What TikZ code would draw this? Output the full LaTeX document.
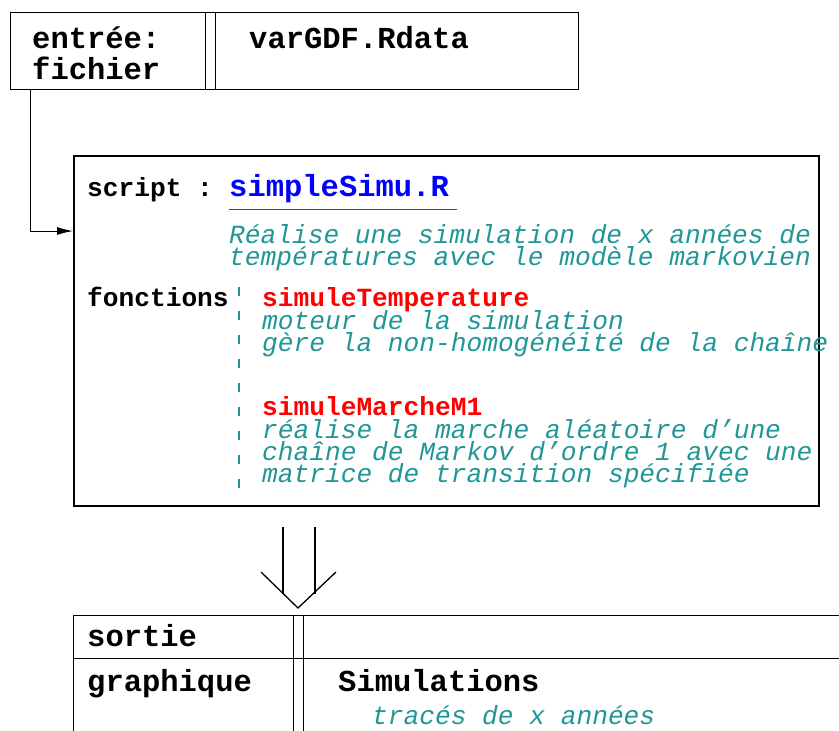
\documentclass[tikz,border=0pt]{standalone}
\usepackage{fontspec}
\setmainfont{Liberation Mono}
\usepackage{xcolor}
\usepackage{tikz}
\usetikzlibrary{arrows.meta,positioning}

\definecolor{descteal}{RGB}{32,150,150}
\definecolor{fnred}{RGB}{255,0,0}
\definecolor{scriptblue}{RGB}{0,0,255}

\begin{document}
\begin{tikzpicture}[
      x=1pt, y=-1pt,
      box_st/.style={
         draw=black,
         line width=1pt,
         inner sep=0pt,
         anchor=north west},
      main_st/.style={
         draw=black,
         line width=2pt,
         inner sep=0pt,
         anchor=north west},
      big_txt/.style={
         anchor=base west,
         inner sep=0pt,
         text height=20pt,
         text depth=5pt,
         font=\fontsize{30.5}{30}\selectfont\bfseries},
      small_txt/.style={
         anchor=base west,
         inner sep=0pt,
         text height=16pt,
         text depth=5pt,
         font=\fontsize{26.2}{22}\selectfont\bfseries},
      fn_txt/.style={
         small_txt,
         text=fnred},
      desc_txt/.style={
         anchor=base west,
         inner sep=0pt,
         text height=16pt,
         text depth=5pt,
         text=descteal,
         font=\fontsize{26.2}{22}\selectfont\itshape},
      arrow_black/.style={
        -{Latex[length=16pt,width=8pt]},
        line width=1pt,
        }
]
      \useasboundingbox (0,0) rectangle (839,731);
      \clip (0,0) rectangle (839,731);

      %input file
      \node[box_st,minimum width=568pt,minimum height=77pt] (input) at (10,12) {};
      \draw[line width=1pt] (205,12) -- (205,89) (215,12) -- (215,89);
      \node[big_txt] (in_lbl) at (32,48) {entrée:};
      \node[big_txt] (in_lbl2) at (32,79) {fichier};
      \node[big_txt] (in_file) at (249,48) {varGDF.Rdata};

      %script
      \node[main_st,minimum width=745pt,minimum height=350pt] (script) at (73,155) {};
      \node[small_txt] (sc_lbl) at (87,196) {script :};
      \node[big_txt,text=scriptblue] (sc_name) at (229,196) {simpleSimu.R};
      \draw[line width=1pt,black!70] (229,209) -- (457,209);
      \node[desc_txt] (sc_d1) at (229,243) {Réalise une simulation de x années de};
      \node[desc_txt] (sc_d2) at (229,265) {températures avec le modèle markovien};

      \node[small_txt] (fn_lbl) at (87,306) {fonctions};
      \draw[descteal,line width=1.5pt,dash pattern=on 9pt off 15pt] (239,287) -- (239,492);

      \foreach \n/\y/\txt/\st in {% name/baseline/text/style
        f1/306/simuleTemperature/fn_txt,
        f1a/329/moteur de la simulation/desc_txt,
        f1b/351/gère la non-homogénéité de la chaîne/desc_txt,
        f2/415/simuleMarcheM1/fn_txt,
        f2a/438/réalise la marche aléatoire d’une/desc_txt,
        f2b/460/chaîne de Markov d’ordre 1 avec une/desc_txt,
        f2c/482/matrice de transition spécifiée/desc_txt}
      \node[\st] (\n) at (262,\y) {\txt};

      \draw[arrow_black] ([xshift=20pt]input.south west) |- ([yshift=-76pt]script.north west);

      %double arrow
      \coordinate (dtop) at (299,527);
      \coordinate (dtip) at (298,608);
      \draw[line width=1.3pt] ([xshift=-16pt]dtop) -- ++(0,67);
      \draw[line width=1.3pt] ([xshift=16pt]dtop) -- ++(0,67);
      \draw[line width=1.3pt,line join=miter] ([xshift=-37pt,yshift=36pt]dtip) -- (dtip) -- ([xshift=38pt,yshift=36pt]dtip);

      %output
      \node[box_st,minimum width=900pt,minimum height=300pt] (output) at (73,615) {};
      \draw[line width=1pt] (73,658) -- (900,658);
      \draw[line width=1pt] (293,615) -- (293,900) (303,615) -- (303,900);
      \node[big_txt] (out_lbl) at (87,646) {sortie};
      \node[big_txt] (out_lbl2) at (87,691) {graphique};
      \node[big_txt] (out_g) at (338,691) {Simulations};
      \node[desc_txt] (out_d) at (372,724) {tracés de x années};

\end{tikzpicture}
\end{document}
